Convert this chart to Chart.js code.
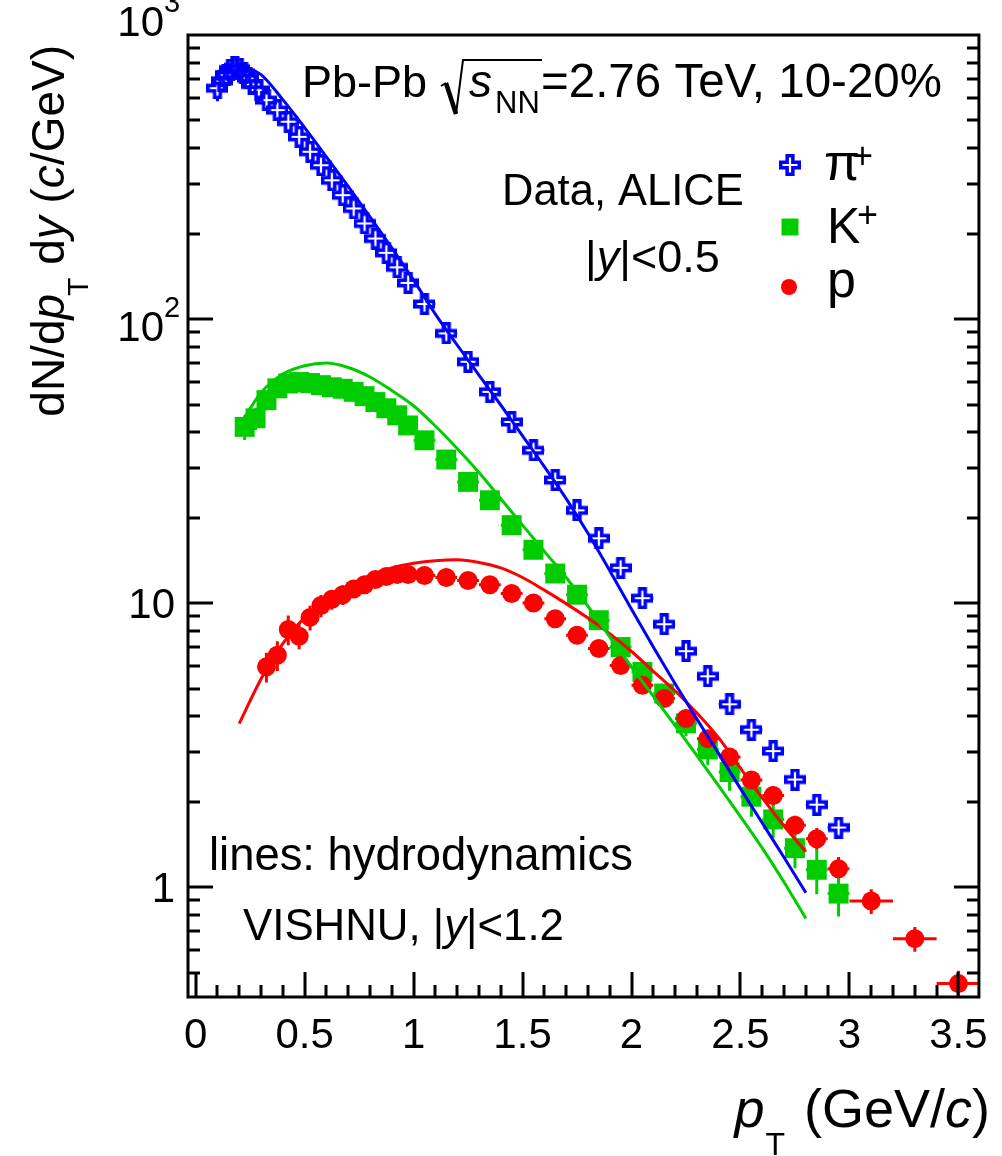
<!DOCTYPE html>
<html>
<head>
<meta charset="utf-8">
<title>Identified hadron spectra, Pb-Pb 10-20%</title>
<script src="https://cdn.jsdelivr.net/npm/chart.js@4.4.1/dist/chart.umd.min.js"></script>
<style>
  html, body { margin: 0; padding: 0; background: #fff; }
  canvas { display: block; }
</style>
</head>
<body>
<canvas id="spectra" width="1002" height="1156"></canvas>
<script>
const FONT = '"Liberation Sans", Arial, Helvetica, sans-serif';
const BLUE = "#0000ff";
const GREEN = "#00cc00";
const RED = "#ff0000";

/* ---------------- measured spectra (ALICE, |y|<0.5) ---------------- */

const PION_PT = [0.10, 0.12, 0.14, 0.16, 0.18, 0.20, 0.22, 0.24, 0.26, 0.29, 0.325, 0.375,
  0.425, 0.475, 0.525, 0.575, 0.625, 0.675, 0.725, 0.775, 0.825, 0.875, 0.925, 0.975,
  1.05, 1.15, 1.25, 1.35, 1.45, 1.55, 1.65, 1.75, 1.85, 1.95, 2.05, 2.15, 2.25, 2.35,
  2.45, 2.55, 2.65, 2.75, 2.85, 2.95];
const PION_Y = [650, 690, 725, 755, 770, 760, 735, 705, 670, 640, 590, 544,
  495, 438, 388, 348, 308, 273, 245, 217, 192, 171, 152, 134,
  112.9, 89, 70.7, 55.4, 43.4, 34.5, 27.1, 21.2, 16.9, 13.3, 10.4, 8.42, 6.77, 5.52,
  4.40, 3.58, 3.01, 2.39, 1.95, 1.62];
const PION_EY = [0.10, 0.05, 0.04, 0.04, 0.04, 0.04, 0.04, 0.04, 0.04, 0.04, 0.04, 0.04,
  0.04, 0.04, 0.04, 0.04, 0.04, 0.04, 0.04, 0.04, 0.04, 0.04, 0.04, 0.04,
  0.04, 0.04, 0.04, 0.04, 0.04, 0.04, 0.04, 0.04, 0.04, 0.04, 0.04, 0.04, 0.05, 0.05,
  0.05, 0.06, 0.06, 0.06, 0.07, 0.07];
const PION_EX = [0.01, 0.01, 0.01, 0.01, 0.01, 0.01, 0.01, 0.01, 0.01, 0.02, 0.025, 0.025,
  0.025, 0.025, 0.025, 0.025, 0.025, 0.025, 0.025, 0.025, 0.025, 0.025, 0.025, 0.025,
  0.05, 0.05, 0.05, 0.05, 0.05, 0.05, 0.05, 0.05, 0.05, 0.05, 0.05, 0.05, 0.05, 0.05,
  0.05, 0.05, 0.05, 0.05, 0.05, 0.05];

const KAON_PT = [0.225, 0.275, 0.325, 0.375, 0.425, 0.475, 0.525, 0.575, 0.625, 0.675,
  0.725, 0.775, 0.825, 0.875, 0.925, 0.975, 1.05, 1.15, 1.25, 1.35, 1.45, 1.55, 1.65,
  1.75, 1.85, 1.95, 2.05, 2.15, 2.25, 2.35, 2.45, 2.55, 2.65, 2.75, 2.85, 2.95];
const KAON_Y = [41.7, 44.7, 51.8, 57.0, 59.3, 60.0, 59.5, 58.5, 57.5, 56.8,
  55.4, 53.5, 51.0, 48.5, 45.8, 42.2, 37.4, 32.0, 26.7, 23.0, 18.8, 15.4, 12.7,
  10.7, 8.7, 7.0, 5.72, 4.80, 3.77, 3.05, 2.54, 2.08, 1.73, 1.37, 1.15, 0.948];
const KAON_EY = [0.10, 0.09, 0.08, 0.07, 0.05, 0.05, 0.05, 0.05, 0.05, 0.05,
  0.05, 0.05, 0.05, 0.05, 0.05, 0.05, 0.05, 0.05, 0.05, 0.05, 0.05, 0.05, 0.05,
  0.05, 0.05, 0.06, 0.06, 0.07, 0.10, 0.12, 0.14, 0.15, 0.14, 0.15, 0.18, 0.17];
const KAON_EX = [0.025, 0.025, 0.025, 0.025, 0.025, 0.025, 0.025, 0.025, 0.025, 0.025,
  0.025, 0.025, 0.025, 0.025, 0.025, 0.025, 0.05, 0.05, 0.05, 0.05, 0.05, 0.05, 0.05,
  0.05, 0.05, 0.05, 0.05, 0.05, 0.05, 0.05, 0.05, 0.05, 0.05, 0.05, 0.05, 0.05];

const PROTON_PT = [0.325, 0.375, 0.425, 0.475, 0.525, 0.575, 0.625, 0.675, 0.725, 0.775,
  0.825, 0.875, 0.925, 0.975, 1.05, 1.15, 1.25, 1.35, 1.45, 1.55, 1.65, 1.75, 1.85,
  1.95, 2.05, 2.15, 2.25, 2.35, 2.45, 2.55, 2.65, 2.75, 2.85, 2.95, 3.1, 3.3, 3.5];
const PROTON_Y = [5.96, 6.55, 8.07, 7.64, 8.9, 9.8, 10.3, 10.7, 11.2, 11.6,
  12.1, 12.4, 12.6, 12.6, 12.5, 12.3, 12.0, 11.6, 10.8, 10.0, 8.8, 7.7, 6.92,
  6.03, 5.13, 4.61, 3.92, 3.33, 2.87, 2.38, 2.10, 1.65, 1.48, 1.16, 0.893, 0.658, 0.457];
const PROTON_EY = [0.12, 0.12, 0.12, 0.10, 0.10, 0.09, 0.08, 0.08, 0.07, 0.07,
  0.06, 0.06, 0.06, 0.06, 0.06, 0.06, 0.06, 0.06, 0.06, 0.06, 0.06, 0.06, 0.06,
  0.06, 0.06, 0.06, 0.06, 0.06, 0.06, 0.07, 0.08, 0.08, 0.09, 0.10, 0.10, 0.10, 0.11];
const PROTON_EX = [0.025, 0.025, 0.025, 0.025, 0.025, 0.025, 0.025, 0.025, 0.025, 0.025,
  0.025, 0.025, 0.025, 0.025, 0.05, 0.05, 0.05, 0.05, 0.05, 0.05, 0.05, 0.05, 0.05,
  0.05, 0.05, 0.05, 0.05, 0.05, 0.05, 0.05, 0.05, 0.05, 0.05, 0.05, 0.1, 0.1, 0.1];

/* ---------------- VISHNU hydro curves (|y|<1.2) ---------------- */

const HYDRO_PT = [0.2, 0.3, 0.4, 0.5, 0.6, 0.7, 0.8, 0.9, 1.0, 1.1, 1.2, 1.3, 1.4, 1.5,
  1.6, 1.7, 1.8, 1.9, 2.0, 2.1, 2.2, 2.3, 2.4, 2.5, 2.6, 2.7, 2.8];
const PION_HYDRO = [785, 725, 592, 472, 372, 293, 229, 178, 137, 104, 81, 63.5, 49.8, 38.8,
  30.2, 23.3, 17.6, 13.0, 9.5, 7.0, 5.2, 3.9, 2.95, 2.22, 1.68, 1.27, 0.955];
const KAON_HYDRO = [42, 55, 64, 68.5, 70, 67.5, 62.5, 56, 49.5, 42, 35, 28.8, 23.3, 18.8,
  15.2, 12.3, 9.75, 7.6, 5.95, 4.7, 3.7, 2.9, 2.27, 1.77, 1.37, 1.04, 0.775];
const PROTON_HYDRO = [3.76, 5.4, 7.2, 8.9, 10.3, 11.5, 12.5, 13.3, 13.8, 14.1, 14.2, 13.9,
  13.3, 12.3, 11.1, 9.95, 8.85, 7.8, 6.75, 5.75, 4.9, 4.1, 3.35, 2.62, 2.06, 1.64, 1.33];

/* ---------------- axes ---------------- */

const X_MIN = -0.035, X_MAX = 3.594;
const Y_MIN = 0.41, Y_MAX = 1000;
const X_LABEL_VALUES = [0, 0.5, 1, 1.5, 2, 2.5, 3, 3.5];
const Y_LABEL_VALUES = [1, 10, 100, 1000];
const Y_LABEL_BASE = ["1", "10", "10", "10"];
const Y_LABEL_EXP = ["", "", "2", "3"];

function points(xs, ys) {
  return xs.map((x, i) => ({ x, y: ys[i] }));
}

// hollow "+" marker used for the pions
function openCross(size, color, lw) {
  const c = document.createElement("canvas");
  c.width = size;
  c.height = size;
  const g = c.getContext("2d");
  const m = size / 2, h = size / 2 - lw / 2, a = size * 0.13;
  g.beginPath();
  g.moveTo(m - a, m - h); g.lineTo(m + a, m - h); g.lineTo(m + a, m - a);
  g.lineTo(m + h, m - a); g.lineTo(m + h, m + a); g.lineTo(m + a, m + a);
  g.lineTo(m + a, m + h); g.lineTo(m - a, m + h); g.lineTo(m - a, m + a);
  g.lineTo(m - h, m + a); g.lineTo(m - h, m - a); g.lineTo(m - a, m - a);
  g.closePath();
  g.lineWidth = lw;
  g.strokeStyle = color;
  g.stroke();
  return c;
}

const CROSS = openCross(22, BLUE, 3.5);

function dataSet(label, xs, ys, ey, ex, color, style, radius, gap, order) {
  return {
    label,
    data: points(xs, ys),
    errY: ey,
    errX: ex,
    errColor: color,
    errGap: gap,
    showLine: false,
    pointStyle: style,
    pointRadius: radius,
    pointBackgroundColor: color,
    pointBorderColor: color,
    pointBorderWidth: 0,
    order,
  };
}

function hydroSet(label, ys, color, order) {
  return {
    label,
    data: points(HYDRO_PT, ys),
    showLine: true,
    borderColor: color,
    borderWidth: 3,
    pointRadius: 0,
    cubicInterpolationMode: "monotone",
    fill: false,
    order,
  };
}

/* ---------------- drawing helpers ---------------- */

function runFont(r) {
  return `${r.italic ? "italic " : ""}${r.size}px ${FONT}`;
}

function runsWidth(ctx, runs) {
  let w = 0;
  for (const r of runs) {
    ctx.font = runFont(r);
    w += ctx.measureText(r.t).width + (r.kern || 0);
  }
  return w;
}

// draws runs of text with their own style, left to right from (x, y)
function drawRuns(ctx, x, y, runs) {
  let cx = x;
  for (const r of runs) {
    ctx.font = runFont(r);
    ctx.fillText(r.t, cx, y + (r.dy || 0));
    cx += ctx.measureText(r.t).width + (r.kern || 0);
  }
  return cx;
}

const errorBars = {
  id: "errorBars",
  beforeDatasetsDraw(chart) {
    const { ctx, chartArea: a } = chart;
    const xs = chart.scales.x, ys = chart.scales.y;
    ctx.save();
    ctx.beginPath();
    ctx.rect(a.left, a.top, a.right - a.left, a.bottom - a.top);
    ctx.clip();
    ctx.lineWidth = 3;
    for (const ds of chart.data.datasets) {
      if (!ds.errY) continue;
      ctx.strokeStyle = ds.errColor;
      const gap = ds.errGap;
      ds.data.forEach((p, i) => {
        const px = xs.getPixelForValue(p.x);
        const py = ys.getPixelForValue(p.y);
        const top = ys.getPixelForValue(p.y * (1 + ds.errY[i]));
        const bot = ys.getPixelForValue(p.y * (1 - ds.errY[i]));
        const lft = xs.getPixelForValue(p.x - ds.errX[i]);
        const rgt = xs.getPixelForValue(p.x + ds.errX[i]);
        ctx.beginPath();
        if (py - top > gap) { ctx.moveTo(px, top); ctx.lineTo(px, py - gap); }
        if (bot - py > gap) { ctx.moveTo(px, py + gap); ctx.lineTo(px, bot); }
        if (px - lft > gap) { ctx.moveTo(lft, py); ctx.lineTo(px - gap, py); }
        if (rgt - px > gap) { ctx.moveTo(px + gap, py); ctx.lineTo(rgt, py); }
        ctx.stroke();
      });
    }
    ctx.restore();
  },
};

// ROOT style frame with inward ticks on the bottom, left and right, plus y labels
const frame = {
  id: "frame",
  afterDatasetsDraw(chart) {
    const { ctx, chartArea: a } = chart;
    const xs = chart.scales.x, ys = chart.scales.y;
    const MAJOR = 25, MINOR = 12;
    ctx.save();
    ctx.strokeStyle = "#000";
    ctx.lineWidth = 3;
    ctx.strokeRect(a.left, a.top, a.right - a.left, a.bottom - a.top);

    ctx.beginPath();
    for (let k = 0; k <= 35; k++) {
      const px = Math.round(xs.getPixelForValue(k / 10));
      const len = k % 5 === 0 ? MAJOR : MINOR;
      ctx.moveTo(px, a.bottom);
      ctx.lineTo(px, a.bottom - len);
    }
    for (const decade of [0.1, 1, 10, 100]) {
      for (let k = 1; k <= 9; k++) {
        const v = k * decade;
        if (v < Y_MIN || v > Y_MAX) continue;
        const py = Math.round(ys.getPixelForValue(v));
        const len = k === 1 ? MAJOR : MINOR;
        ctx.moveTo(a.left, py); ctx.lineTo(a.left + len, py);
        ctx.moveTo(a.right, py); ctx.lineTo(a.right - len, py);
      }
    }
    ctx.stroke();

    // decade labels; powers of ten carry a raised exponent
    ctx.fillStyle = "#000";
    ctx.textBaseline = "alphabetic";
    Y_LABEL_VALUES.forEach((v, i) => {
      const py = ys.getPixelForValue(v);
      ctx.font = `42px ${FONT}`;
      ctx.textAlign = "right";
      if (!Y_LABEL_EXP[i]) {
        ctx.fillText(Y_LABEL_BASE[i], 175, py + 15);
        return;
      }
      const top = v === Y_MAX;
      const base = top ? py + 1 : py + 22;
      ctx.fillText(Y_LABEL_BASE[i], 164, base);
      ctx.textAlign = "left";
      ctx.font = `29px ${FONT}`;
      ctx.fillText(Y_LABEL_EXP[i], 164, base - 24);
    });
    ctx.restore();
  },
};

const texts = {
  id: "texts",
  afterDraw(chart) {
    const ctx = chart.ctx;
    ctx.save();
    ctx.fillStyle = "#000";
    ctx.textBaseline = "alphabetic";
    ctx.textAlign = "left";

    // collision system header with a drawn square root
    drawRuns(ctx, 302, 97, [{ t: "Pb-Pb", size: 45 }]);
    ctx.strokeStyle = "#000";
    ctx.lineCap = "butt";
    ctx.lineWidth = 2;
    ctx.beginPath();
    ctx.moveTo(441, 86); ctx.lineTo(446, 83);
    ctx.stroke();
    ctx.lineWidth = 4.5;
    ctx.beginPath();
    ctx.moveTo(446, 83); ctx.lineTo(456, 114);
    ctx.stroke();
    ctx.lineWidth = 2;
    ctx.beginPath();
    ctx.moveTo(456, 114); ctx.lineTo(463, 60); ctx.lineTo(542, 60);
    ctx.stroke();
    drawRuns(ctx, 469, 97, [{ t: "s", size: 46, italic: true }]);
    drawRuns(ctx, 495, 113, [{ t: "NN", size: 31 }]);
    drawRuns(ctx, 541, 97, [{ t: "=2.76 TeV, 10-20%", size: 47.5 }]);

    drawRuns(ctx, 502, 205, [{ t: "Data, ALICE", size: 43.5 }]);
    drawRuns(ctx, 585, 272, [
      { t: "|", size: 45 }, { t: "y", size: 45, italic: true }, { t: "|<0.5", size: 45 },
    ]);

    // legend
    const h = Chart.helpers;
    h.drawPoint(ctx, { pointStyle: CROSS, radius: 10, borderWidth: 0 }, 790, 165);
    ctx.fillStyle = GREEN;
    h.drawPoint(ctx, { pointStyle: "rect", radius: 12, borderWidth: 0 }, 790, 227);
    ctx.fillStyle = RED;
    h.drawPoint(ctx, { pointStyle: "circle", radius: 8, borderWidth: 0 }, 789, 287);
    ctx.fillStyle = "#000";
    drawRuns(ctx, 824, 180, [{ t: "\u03c0", size: 52 }]);
    drawRuns(ctx, 852, 168, [{ t: "+", size: 36 }]);
    drawRuns(ctx, 827, 243, [{ t: "K", size: 50 }]);
    drawRuns(ctx, 857, 227, [{ t: "+", size: 36 }]);
    drawRuns(ctx, 827, 297, [{ t: "p", size: 52 }]);

    drawRuns(ctx, 209, 870, [{ t: "lines: hydrodynamics", size: 45.4 }]);
    drawRuns(ctx, 243, 940, [
      { t: "VISHNU, |", size: 43.8 }, { t: "y", size: 43.8, italic: true }, { t: "|<1.2", size: 43.8 },
    ]);

    // x axis title, right aligned to the frame
    const xTitle = [
      { t: "p", size: 54, italic: true, kern: 1 },
      { t: "T", size: 32, dy: 28, kern: 4 },
      { t: " (GeV/", size: 54 },
      { t: "c", size: 54, italic: true },
      { t: ")", size: 54 },
    ];
    drawRuns(ctx, 990 - runsWidth(ctx, xTitle), 1127, xTitle);

    // y axis title, rotated and ending near the top of the frame
    const yTitle = [
      { t: "dN/d", size: 46 },
      { t: "p", size: 46, italic: true, kern: -2 },
      { t: "T", size: 30, dy: 24 },
      { t: " d", size: 46 },
      { t: "y", size: 46, italic: true },
      { t: " (", size: 46 },
      { t: "c", size: 46, italic: true },
      { t: "/GeV)", size: 46 },
    ];
    ctx.translate(64, 45 + runsWidth(ctx, yTitle));
    ctx.rotate(-Math.PI / 2);
    drawRuns(ctx, 0, 0, yTitle);
    ctx.restore();
  },
};

/* ---------------- chart ---------------- */

new Chart(document.getElementById("spectra"), {
  type: "scatter",
  data: {
    datasets: [
      hydroSet("pi hydro", PION_HYDRO, BLUE, 1),
      hydroSet("K hydro", KAON_HYDRO, GREEN, 2),
      hydroSet("p hydro", PROTON_HYDRO, RED, 3),
      dataSet("p", PROTON_PT, PROTON_Y, PROTON_EY, PROTON_EX, RED, "circle", 9.5, 8.5, 4),
      dataSet("K+", KAON_PT, KAON_Y, KAON_EY, KAON_EX, GREEN, "rect", 14.1, 9.5, 5),
      dataSet("pi+", PION_PT, PION_Y, PION_EY, PION_EX, BLUE, CROSS, 11, 10.5, 6),
    ],
  },
  options: {
    responsive: false,
    devicePixelRatio: 1,
    animation: false,
    events: [],
    layout: { padding: { top: 35, right: 11, left: 0, bottom: 0 } },
    plugins: { legend: { display: false }, tooltip: { enabled: false } },
    scales: {
      x: {
        type: "linear",
        min: X_MIN,
        max: X_MAX,
        grid: { display: false, drawTicks: false },
        border: { display: false },
        afterBuildTicks: (s) => { s.ticks = X_LABEL_VALUES.map((v) => ({ value: v })); },
        afterFit: (s) => { s.height = 159; },
        ticks: {
          font: { family: FONT, size: 42 }, color: "#000", padding: 14,
          maxRotation: 0, autoSkip: false,
          callback: (v) => String(v),
        },
      },
      y: {
        type: "logarithmic",
        min: Y_MIN,
        max: Y_MAX,
        grid: { display: false, drawTicks: false },
        border: { display: false },
        afterBuildTicks: (s) => { s.ticks = Y_LABEL_VALUES.map((v) => ({ value: v })); },
        afterFit: (s) => { s.width = 188; },
        ticks: { display: false },
      },
    },
  },
  plugins: [errorBars, frame, texts],
});
</script>
</body>
</html>
